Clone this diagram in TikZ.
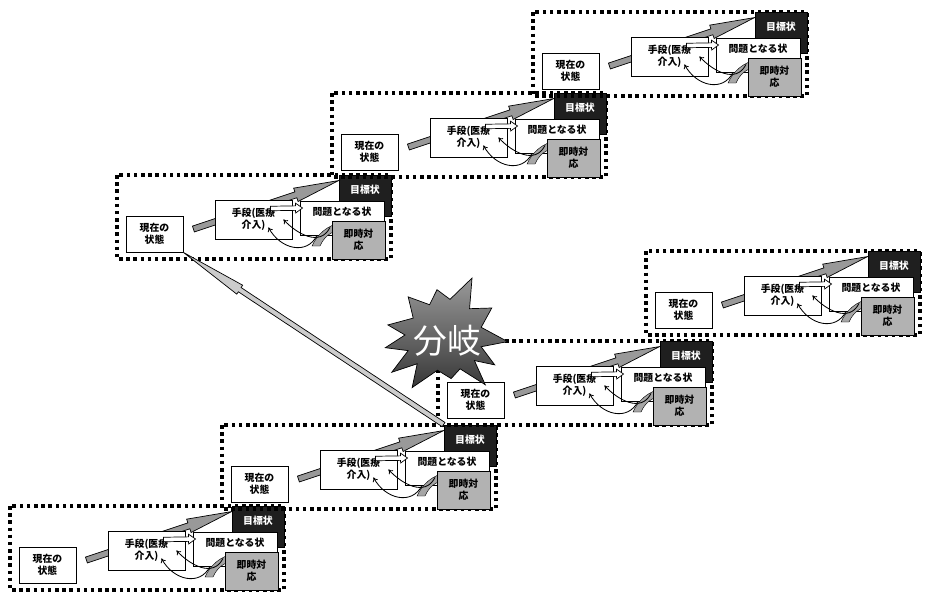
\documentclass[tikz,border=0pt]{standalone}
\usepackage{fontspec}
\setmainfont{Noto Sans CJK JP}
\usetikzlibrary{calc,arrows.meta}

\newcommand{\boxfont}{\fontsize{7}{8.5}\selectfont\bfseries}

\tikzset{
  dotframe/.style={line width=2.5pt, dash pattern=on 2.5pt off 2.6pt},
  box/.style={draw, line width=0.6pt, fill=white, align=center, font=\boxfont, inner sep=0pt},
  goalbox/.style={box, fill=black!88, text=white},
  actbox/.style={box, fill=black!30},
  flow/.style={draw=black, line width=0.5pt, fill=black!40},
  link/.style={line width=0.6pt, -{To[length=3pt,width=4pt]}},
  blast/.style={draw=black, line width=0.5pt, top color=black!40, bottom color=black!78},
}

% толстая стрелка: стиль, откуда, куда, полуширина, полуширина головки, длина головки
\newcommand{\blockarrow}[6]{%
  \coordinate (ba-h) at ($(#3)!#6!(#2)$);
  \path[#1] ($(#2)!#4!90:(#3)$) -- ($(ba-h)!#4!90:(#3)$) -- ($(ba-h)!#5!90:(#3)$)
    -- (#3) -- ($(ba-h)!#5!-90:(#3)$) -- ($(ba-h)!#4!-90:(#3)$) -- ($(#2)!#4!-90:(#3)$) -- cycle;
}

% один блок: имя, x, y (левый верхний угол рамки)
\newcommand{\drawplan}[3]{%
  \coordinate (#1) at (#2,#3);
  \draw[dotframe] (#1) rectangle ++(274,84);
  \node[goalbox, minimum width=1.3cm, minimum height=1.025cm] (#1-goal) at ($(#1)+(248,20.5)$) {目標状\\\phantom{態}};
  \node[box, minimum width=1.425cm, minimum height=0.9cm] (#1-now) at ($(#1)+(37.5,59)$) {現在の\\状態};
  \coordinate (#1-tail) at ($(#1-now.east)+(10,-5)$);
  \coordinate (#1-tip) at ($(#1-goal.north west)+(0,6)$);
  \blockarrow{flow}{#1-tail}{#1-tip}{2.2pt}{5pt}{32pt}
  \node[box, minimum width=1.925cm, minimum height=0.975cm] (#1-means) at ($(#1)+(136.5,44.5)$) {手段(医療\\介入)};
  \node[box, minimum width=2.1cm, minimum height=0.85cm] (#1-prob) at ($(#1)+(225,43)$) {問題となる状\\\phantom{態}};
  \path[flow, fill=black!35, line width=0.3pt] ($(#1)+(224,48)$) .. controls ($(#1)+(210,50)$) and ($(#1)+(200,60)$) .. ($(#1)+(195,71)$)
    -- ($(#1)+(203,71)$) .. controls ($(#1)+(207,62)$) and ($(#1)+(214,56)$) .. ($(#1)+(224,55)$) -- cycle;
  \node[actbox, minimum width=1.325cm, minimum height=0.95cm] (#1-act) at ($(#1)+(241.5,65)$) {即時対\\応};
  \coordinate (#1-wa) at ($(#1-means.east)+(-22,-11)$);
  \coordinate (#1-wb) at ($(#1-prob.west)+(3,-10)$);
  \blockarrow{flow, fill=white}{#1-wa}{#1-wb}{1.6pt}{3.5pt}{5pt}
  \draw[link] ($(#1-prob.south)+(-25,0)$) .. controls ($(#1-prob.south)+(-35,20)$) and ($(#1-means.south east)+(-12,10)$) .. ($(#1-means.south east)+(-24,-12)$);
  \draw[link] ($(#1-prob.south)+(-12,-8)$) .. controls ($(#1-prob.south)+(-22,12)$) and ($(#1-means.east)+(4,14)$) .. ($(#1-means.east)+(-9,0)$);
}

\begin{document}
\begin{tikzpicture}[x=0.025cm, y=-0.025cm]
  \useasboundingbox (0,0) rectangle (928,593);
  % нижняя цепочка
  \drawplan{u1}{10}{506}
  \drawplan{u2}{222}{425}
  \drawplan{u3}{438}{341}
  \drawplan{u4}{646}{251}
  % верхняя цепочка
  \drawplan{u5}{117}{175}
  \drawplan{u6}{332}{93}
  \drawplan{u7}{533}{12}
  % возврат
  \blockarrow{flow, fill=black!20}{u2-goal.north west}{u5-now.south east}{1.8pt}{3.8pt}{48pt}
  % взрыв
  \coordinate (c) at (445,335);
  \path[blast] ($(c)+(-170:58)$) \foreach \a/\r in {-152/36, -134/53, -117/34, -100/46, -82/36, -64.6/63, -47/36, -30/54, -12/37, 6/63, 18/38, 31/58, 41/39, 51/64, 66/37, 82/44, 102/36, 122/62, 134/40, 145/65, 157/40, 168/61, 180/40} { -- ($(c)+(\a:\r)$) } -- cycle;
  \node[text=white, font=\fontsize{24}{24}\selectfont] (burst) at (447,341) {分岐};
\end{tikzpicture}
\end{document}
